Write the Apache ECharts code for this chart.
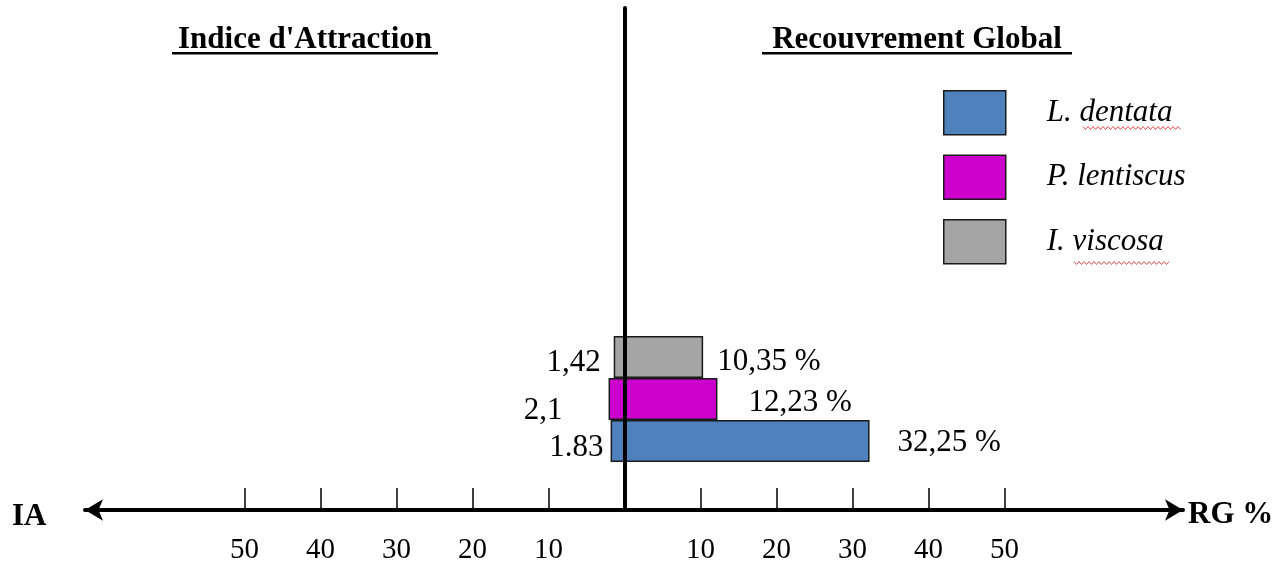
<!DOCTYPE html>
<html><head><meta charset="utf-8">
<script src="https://cdn.jsdelivr.net/npm/echarts@6/dist/echarts.min.js"></script>
<style>html,body{margin:0;padding:0;background:#fff}#c{width:1285px;height:566px}</style>
</head><body><div id="c"></div>
<script>
// ---- data ----
const species = ['L. dentata', 'P. lentiscus', 'I. viscosa'];
const iaValues = [1.83, 2.1, 1.42];          // Indice d'Attraction (drawn to the left)
const iaLabels = ['1.83', '2,1', '1,42'];
const rgValues = [32.25, 12.23, 10.35];       // Recouvrement Global % (drawn to the right)
const tickValues = [-50, -40, -30, -20, -10, 10, 20, 30, 40, 50];

// ---- styles ----
const colors = ['#4F81BD', '#CC00CC', '#A5A5A5'];
const iaOffset = [[-7, 7], [-46, 12], [-13, 6]];
const rgOffset = [[28, 2], [31, 4], [14, 5]];
const FONT = '"Liberation Serif","Times New Roman",serif';
const FS = 31;
const X_MIN = -71, X_MAX = 73.5;

const chart = echarts.init(document.getElementById('c'), null, {renderer: 'canvas'});

const series = [];
species.forEach((name, i) => {
  const common = {
    name: name, type: 'bar', stack: 'all', xAxisIndex: 0, yAxisIndex: 0,
    barCategoryGap: 0,
    itemStyle: {color: colors[i], borderColor: '#1a1a1a', borderWidth: 1.5},
    emphasis: {disabled: true}, animation: false
  };
  series.push(Object.assign({}, common, {
    data: species.map((_, j) => j === i ? -iaValues[i] : '-'),
    label: {show: true, position: 'left', distance: 0, offset: iaOffset[i],
      formatter: () => iaLabels[i], fontFamily: FONT, fontSize: FS, color: '#000'}
  }));
  series.push(Object.assign({}, common, {
    data: species.map((_, j) => j === i ? rgValues[i] : '-'),
    label: {show: true, position: 'right', distance: 0, offset: rgOffset[i],
      formatter: () => rgValues[i].toFixed(2).replace('.', ',') + ' %',
      fontFamily: FONT, fontSize: FS, color: '#000'}
  }));
});

function wavy(x0, x1, y) {
  const pts = [];
  let k = 0;
  for (let x = x0; x <= x1; x += 2.5, k++) pts.push([x, y + (k % 2 ? 1.5 : -1.5)]);
  return pts;
}

const option = {
  backgroundColor: '#fff',
  animation: false,
  grid: [
    {left: 85, right: 102, top: 336, bottom: 104},
    {left: 85, right: 102, top: 8, bottom: 56}
  ],
  xAxis: [
    {gridIndex: 0, type: 'value', min: X_MIN, max: X_MAX, show: false},
    {gridIndex: 1, type: 'value', min: X_MIN, max: X_MAX,
      axisLine: {show: true, symbol: ['arrow', 'arrow'], symbolSize: [16, 18],
        lineStyle: {color: '#000', width: 4}},
      axisTick: {show: true, inside: true, length: 22, customValues: tickValues,
        lineStyle: {color: '#000', width: 1.5}},
      axisLabel: {show: true, customValues: tickValues, margin: 26,
        formatter: v => String(Math.abs(v)), fontFamily: FONT, fontSize: 29, color: '#000'},
      splitLine: {show: false}, z: 5}
  ],
  yAxis: [
    {gridIndex: 0, type: 'category', data: species, show: false},
    {gridIndex: 1, type: 'value', min: 0, max: 1,
      axisLine: {show: true, onZero: true, lineStyle: {color: '#000', width: 4}},
      axisTick: {show: false}, axisLabel: {show: false}, splitLine: {show: false}, z: 6}
  ],
  legend: {
    orient: 'vertical', left: 943, top: 90, padding: 0,
    data: species, icon: 'rect', itemWidth: 62, itemHeight: 44, itemGap: 19,
    selectedMode: false,
    itemStyle: {borderColor: '#1a1a1a', borderWidth: 1.5},
    textStyle: {fontFamily: FONT, fontSize: FS, fontStyle: 'italic', color: '#000',
      padding: [6, 0, 0, 36]}
  },
  graphic: [
    {type: 'text', style: {text: "Indice d'Attraction", x: 305, y: 40, textAlign: 'center',
      textVerticalAlign: 'middle', font: 'bold ' + FS + 'px ' + FONT, fill: '#000'}},
    {type: 'rect', shape: {x: 172, y: 52, width: 266, height: 2.5}, style: {fill: '#000'}},
    {type: 'text', style: {text: 'Recouvrement Global', x: 917, y: 40, textAlign: 'center',
      textVerticalAlign: 'middle', font: 'bold ' + FS + 'px ' + FONT, fill: '#000'}},
    {type: 'rect', shape: {x: 762, y: 52, width: 310, height: 2.5}, style: {fill: '#000'}},
    {type: 'text', style: {text: 'IA', x: 12, y: 517, textAlign: 'left',
      textVerticalAlign: 'middle', font: 'bold ' + FS + 'px ' + FONT, fill: '#000'}},
    {type: 'text', style: {text: 'RG %', x: 1188, y: 515, textAlign: 'left',
      textVerticalAlign: 'middle', font: 'bold ' + FS + 'px ' + FONT, fill: '#000'}},
    {type: 'polyline', shape: {points: wavy(1083, 1182, 128)}, style: {stroke: '#E05050', lineWidth: 1, fill: null}},
    {type: 'polyline', shape: {points: wavy(1074, 1169, 263)}, style: {stroke: '#E05050', lineWidth: 1, fill: null}}
  ],
  series: series
};
chart.setOption(option);
</script>
</body></html>
